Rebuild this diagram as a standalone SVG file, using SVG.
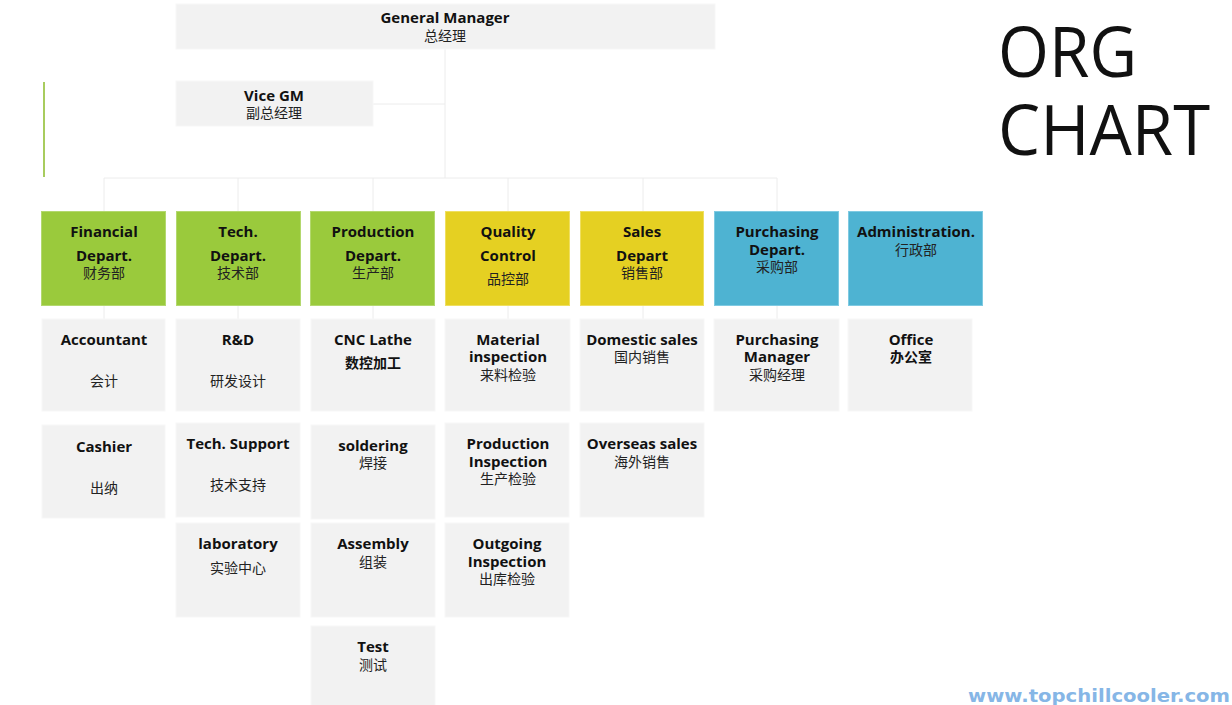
<svg xmlns="http://www.w3.org/2000/svg" width="1232" height="705" viewBox="0 0 1232 705">
<style>
.bg{fill:#ffffff}
.top{fill:#f2f2f2;stroke:#f7f7f7;stroke-width:1}
.sub{fill:#f2f2f2;stroke:#f7f7f7;stroke-width:1}
.green{fill:#9aca3c;stroke:#b3d86e;stroke-width:1}
.yellow{fill:#e5d022;stroke:#efdf60;stroke-width:1}
.blue{fill:#4eb3d2;stroke:#7fcae2;stroke-width:1}
.en{font-family:"Open Sans","Noto Sans",sans-serif;font-weight:bold;font-size:15px;fill:#111;text-anchor:middle}
.cn{font-family:"Noto Sans CJK SC","Noto Sans",sans-serif;font-weight:normal;font-size:14px;fill:#222;text-anchor:middle}
.cnb{font-family:"Noto Sans CJK SC","Noto Sans",sans-serif;font-weight:bold;font-size:14px;fill:#111;text-anchor:middle}
.conn{stroke:#ececec;stroke-width:1;fill:none}
.title{font-family:"Open Sans","Noto Sans",sans-serif;font-size:70px;fill:#111}
.web{font-family:"DejaVu Sans",sans-serif;font-weight:bold;font-size:18px;fill:#86b6e6}
</style>
<rect class="bg" x="0" y="0" width="1232" height="705"/>

<g id="connectors">
<path class="conn" d="M445 49 V178"/>
<path class="conn" d="M373 104 H445"/>
<path class="conn" d="M104 178 H777"/>
<path class="conn" d="M104 178 V211 M238 178 V211 M373 178 V211 M508 178 V211 M643 178 V211 M777 178 V211"/>
<path class="conn" d="M104 306 V319 M238 306 V319 M373 306 V319 M508 306 V319 M643 306 V319 M777 306 V319"/>
</g>

<line x1="44" y1="82" x2="44" y2="177" stroke="#a8cc5e" stroke-width="2"/>

<g id="gm"><rect class="top" x="176" y="4" width="539" height="45"/>
<text class="en" x="445" y="23">General Manager</text><text class="cn" x="445" y="41">总经理</text></g>
<g id="vicegm"><rect class="top" x="176" y="81" width="197" height="45"/>
<text class="en" x="274" y="101">Vice GM</text><text class="cn" x="274" y="118">副总经理</text></g>

<g id="financial"><rect class="green" x="41.5" y="211.5" width="124" height="94"/>
<text class="en" x="104" y="237">Financial</text><text class="en" x="104" y="261">Depart.</text><text class="cn" x="104" y="278">财务部</text></g>
<g id="tech"><rect class="green" x="176.5" y="211.5" width="124" height="94"/>
<text class="en" x="238" y="237">Tech.</text><text class="en" x="238" y="261">Depart.</text><text class="cn" x="238" y="278">技术部</text></g>
<g id="production"><rect class="green" x="310.5" y="211.5" width="124" height="94"/>
<text class="en" x="373" y="237">Production</text><text class="en" x="373" y="261">Depart.</text><text class="cn" x="373" y="278">生产部</text></g>
<g id="quality"><rect class="yellow" x="445.5" y="211.5" width="124" height="94"/>
<text class="en" x="508" y="237">Quality</text><text class="en" x="508" y="261">Control</text><text class="cn" x="508" y="284">品控部</text></g>
<g id="sales"><rect class="yellow" x="580.5" y="211.5" width="123" height="94"/>
<text class="en" x="642" y="237">Sales</text><text class="en" x="642" y="261">Depart</text><text class="cn" x="642" y="278">销售部</text></g>
<g id="purchasing"><rect class="blue" x="714.5" y="211.5" width="124" height="94"/>
<text class="en" x="777" y="237">Purchasing</text><text class="en" x="777" y="255">Depart.</text><text class="cn" x="777" y="272">采购部</text></g>
<g id="admin"><rect class="blue" x="848.5" y="211.5" width="134" height="94"/>
<text class="en" x="916" y="237">Administration.</text><text class="cn" x="916" y="255">行政部</text></g>

<g id="accountant"><rect class="sub" x="42" y="319" width="123" height="92"/>
<text class="en" x="104" y="345">Accountant</text><text class="cn" x="104" y="386">会计</text></g>
<g id="cashier"><rect class="sub" x="42" y="425" width="123" height="93"/>
<text class="en" x="104" y="452">Cashier</text><text class="cn" x="104" y="493">出纳</text></g>

<g id="rnd"><rect class="sub" x="176" y="319" width="124" height="92"/>
<text class="en" x="238" y="345">R&amp;D</text><text class="cn" x="238" y="386">研发设计</text></g>
<g id="techsupport"><rect class="sub" x="176" y="423" width="124" height="94"/>
<text class="en" x="238" y="449">Tech. Support</text><text class="cn" x="238" y="490">技术支持</text></g>
<g id="laboratory"><rect class="sub" x="176" y="523" width="124" height="94"/>
<text class="en" x="238" y="549">laboratory</text><text class="cn" x="238" y="573">实验中心</text></g>

<g id="cnc"><rect class="sub" x="311" y="319" width="124" height="92"/>
<text class="en" x="373" y="345">CNC Lathe</text><text class="cnb" x="373" y="368">数控加工</text></g>
<g id="soldering"><rect class="sub" x="311" y="425" width="124" height="94"/>
<text class="en" x="373" y="451">soldering</text><text class="cn" x="373" y="468">焊接</text></g>
<g id="assembly"><rect class="sub" x="311" y="523" width="124" height="94"/>
<text class="en" x="373" y="549">Assembly</text><text class="cn" x="373" y="567">组装</text></g>
<g id="test"><rect class="sub" x="311" y="626" width="124" height="80"/>
<text class="en" x="373" y="652">Test</text><text class="cn" x="373" y="670">测试</text></g>

<g id="material"><rect class="sub" x="445" y="319" width="125" height="92"/>
<text class="en" x="508" y="345">Material</text><text class="en" x="508" y="362">inspection</text><text class="cn" x="508" y="380">来料检验</text></g>
<g id="prodinsp"><rect class="sub" x="445" y="423" width="124" height="94"/>
<text class="en" x="508" y="449">Production</text><text class="en" x="508" y="467">Inspection</text><text class="cn" x="508" y="484">生产检验</text></g>
<g id="outgoing"><rect class="sub" x="445" y="523" width="124" height="94"/>
<text class="en" x="507" y="549">Outgoing</text><text class="en" x="507" y="567">Inspection</text><text class="cn" x="507" y="584">出库检验</text></g>

<g id="domestic"><rect class="sub" x="580" y="319" width="124" height="92"/>
<text class="en" x="642" y="345">Domestic sales</text><text class="cn" x="642" y="362">国内销售</text></g>
<g id="overseas"><rect class="sub" x="580" y="423" width="124" height="94"/>
<text class="en" x="642" y="449">Overseas sales</text><text class="cn" x="642" y="467">海外销售</text></g>

<g id="purchmgr"><rect class="sub" x="714" y="319" width="125" height="92"/>
<text class="en" x="777" y="345">Purchasing</text><text class="en" x="777" y="362">Manager</text><text class="cn" x="777" y="380">采购经理</text></g>

<g id="office"><rect class="sub" x="848" y="319" width="124" height="92"/>
<text class="en" x="911" y="345">Office</text><text class="cnb" x="911" y="362">办公室</text></g>

<text class="title" x="998" y="77" textLength="139" lengthAdjust="spacingAndGlyphs">ORG</text>
<text class="title" x="998" y="155" textLength="212" lengthAdjust="spacingAndGlyphs">CHART</text>
<text class="web" x="968" y="702" textLength="262" lengthAdjust="spacingAndGlyphs">www.topchillcooler.com</text>
</svg>
